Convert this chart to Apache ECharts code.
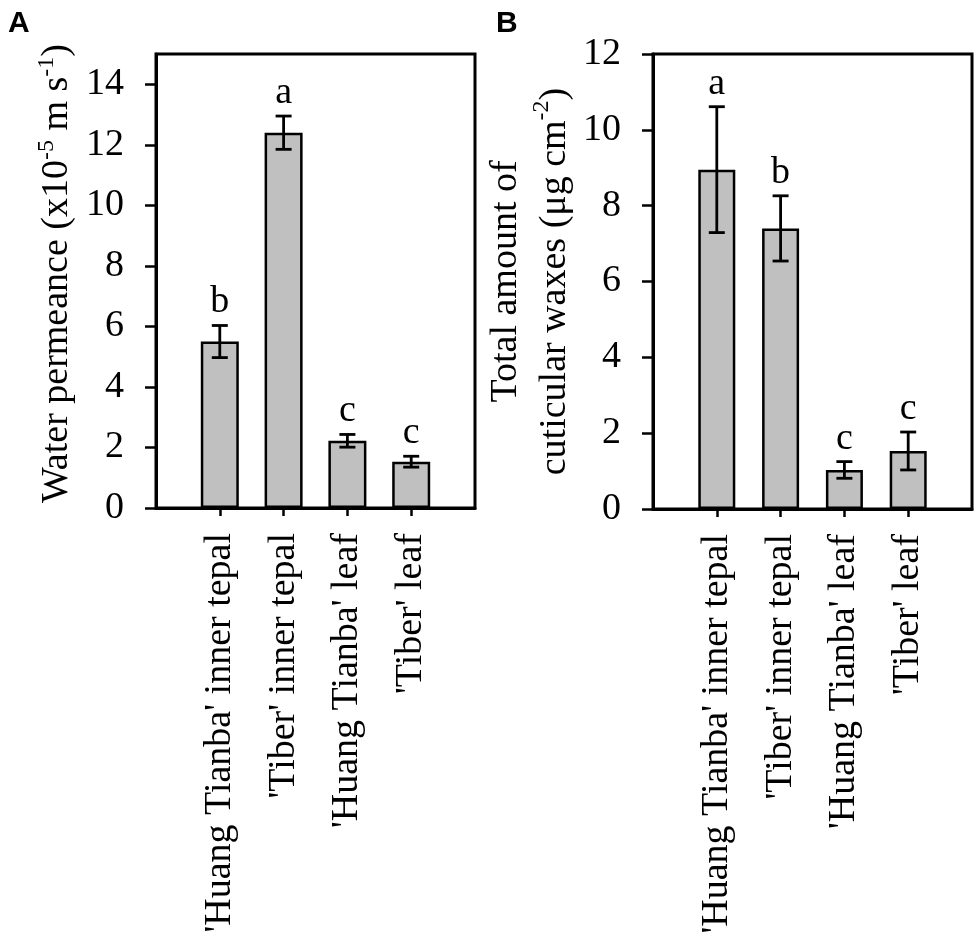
<!DOCTYPE html>
<html>
<head>
<meta charset="utf-8">
<script src="https://cdn.jsdelivr.net/npm/echarts@6/dist/echarts.min.js"></script>
<style>
  html, body { margin: 0; padding: 0; background: #fff; }
  #chart { width: 975px; height: 942px; }
</style>
</head>
<body>
<div id="chart"></div>
<script>
// categories (same for both panels)
var categories = ["'Huang Tianba' inner tepal", "'Tiber' inner tepal", "'Huang Tianba' leaf", "'Tiber' leaf"];

// panel A: water permeance (x10^-5 m s^-1)
var permeance = [5.5, 12.4, 2.22, 1.53];
var permeanceErr = [0.53, 0.55, 0.21, 0.18];
var permeanceLetters = ['b', 'a', 'c', 'c'];
var ticksA = [0, 2, 4, 6, 8, 10, 12, 14];

// panel B: total amount of cuticular waxes (ug cm^-2)
var waxes = [8.95, 7.4, 1.03, 1.53];
var waxesErr = [1.66, 0.86, 0.22, 0.5];
var waxesLetters = ['a', 'b', 'c', 'c'];
var ticksB = [0, 2, 4, 6, 8, 10, 12];

var serif = 'Liberation Serif';
var axisCats = [''].concat(categories).concat(['']);

function barData(vals) {
  return vals.map(function (v, i) { return [i + 1, v]; });
}
function errData(vals, errs) {
  return vals.map(function (v, i) { return [i + 1, v - errs[i], v + errs[i]]; });
}
function errRender(letters) {
  return function (params, api) {
    var x = api.value(0);
    var lo = api.coord([x, api.value(1)]);
    var hi = api.coord([x, api.value(2)]);
    var hw = 8;
    var ls = { stroke: '#000', lineWidth: 2.8 };
    return {
      type: 'group',
      children: [
        { type: 'line', shape: { x1: lo[0], y1: lo[1], x2: hi[0], y2: hi[1] }, style: ls },
        { type: 'line', shape: { x1: hi[0] - hw, y1: hi[1], x2: hi[0] + hw, y2: hi[1] }, style: ls },
        { type: 'line', shape: { x1: lo[0] - hw, y1: lo[1], x2: lo[0] + hw, y2: lo[1] }, style: ls },
        { type: 'text', style: {
            text: letters[params.dataIndex], x: hi[0], y: hi[1] - 23,
            align: 'center', verticalAlign: 'middle',
            fontSize: 38, fontFamily: serif, fill: '#000' } }
      ]
    };
  };
}

function xAxisFor(idx) {
  return {
    type: 'category', gridIndex: idx, data: axisCats, boundaryGap: false,
    axisLine: { lineStyle: { color: '#000', width: 3 } },
    axisTick: { show: true, length: 8, lineStyle: { color: '#000', width: 2.5 },
      interval: function (i) { return i > 0 && i < axisCats.length - 1; } },
    axisLabel: { rotate: 90, margin: 25, interval: 0, color: '#000', fontFamily: serif, fontSize: 38 },
    splitLine: { show: false }
  };
}

function yAxisFor(idx, max, ticks, name, gap, rich, lh, pad) {
  return {
    type: 'value', gridIndex: idx, min: 0, max: max, interval: 2,
    axisLine: { show: true, lineStyle: { color: '#000', width: 3 } },
    axisTick: { show: true, length: 11, lineStyle: { color: '#000', width: 2.5 }, customValues: ticks },
    axisLabel: { margin: 32, color: '#000', fontFamily: serif, fontSize: 38, customValues: ticks },
    splitLine: { show: false },
    name: name, nameLocation: 'middle', nameRotate: 90, nameGap: gap,
    nameTextStyle: { color: '#000', fontFamily: serif, fontSize: 38, lineHeight: lh, padding: pad, rich: rich }
  };
}

var chart = echarts.init(document.getElementById('chart'));

var option = {
  animation: false,
  backgroundColor: '#fff',
  grid: [
    { left: 156, top: 54, width: 319, height: 454, show: true, borderColor: '#000', borderWidth: 3, outerBoundsMode: 'none' },
    { left: 653, top: 54, width: 319, height: 455, show: true, borderColor: '#000', borderWidth: 3, outerBoundsMode: 'none' }
  ],
  xAxis: [xAxisFor(0), xAxisFor(1)],
  yAxis: [
    yAxisFor(0, 15, ticksA, 'Water permeance (x10{sup|-5} m s{sup|-1})', 77,
      { sup: { fontSize: 24, fontFamily: serif, color: '#000', verticalAlign: 'top', lineHeight: 13 } }, 44, [0, 0, 0, 15]),
    yAxisFor(1, 12, ticksB, 'Total amount of\ncuticular waxes (\u03bcg cm{sup|-2})', 68,
      { sup: { fontSize: 24, fontFamily: serif, color: '#000', verticalAlign: 'top', lineHeight: 19 } }, 49, 0)
  ],
  series: [
    { type: 'bar', xAxisIndex: 0, yAxisIndex: 0, data: barData(permeance), barWidth: 38,
      itemStyle: { color: '#c0c0c0', borderColor: '#000', borderWidth: 2.5 } },
    { type: 'custom', xAxisIndex: 0, yAxisIndex: 0, data: errData(permeance, permeanceErr),
      encode: { x: 0, y: [1, 2] }, renderItem: errRender(permeanceLetters), z: 5 },
    { type: 'bar', xAxisIndex: 1, yAxisIndex: 1, data: barData(waxes), barWidth: 37,
      itemStyle: { color: '#c0c0c0', borderColor: '#000', borderWidth: 2.5 } },
    { type: 'custom', xAxisIndex: 1, yAxisIndex: 1, data: errData(waxes, waxesErr),
      encode: { x: 0, y: [1, 2] }, renderItem: errRender(waxesLetters), z: 5 }
  ],
  graphic: [
    { type: 'text', left: 8, top: 9, style: { text: 'A', fontSize: 30, fontWeight: 'bold', fontFamily: 'Liberation Sans', fill: '#000' } },
    { type: 'text', left: 496, top: 9, style: { text: 'B', fontSize: 30, fontWeight: 'bold', fontFamily: 'Liberation Sans', fill: '#000' } }
  ]
};

chart.setOption(option);
</script>
</body>
</html>
